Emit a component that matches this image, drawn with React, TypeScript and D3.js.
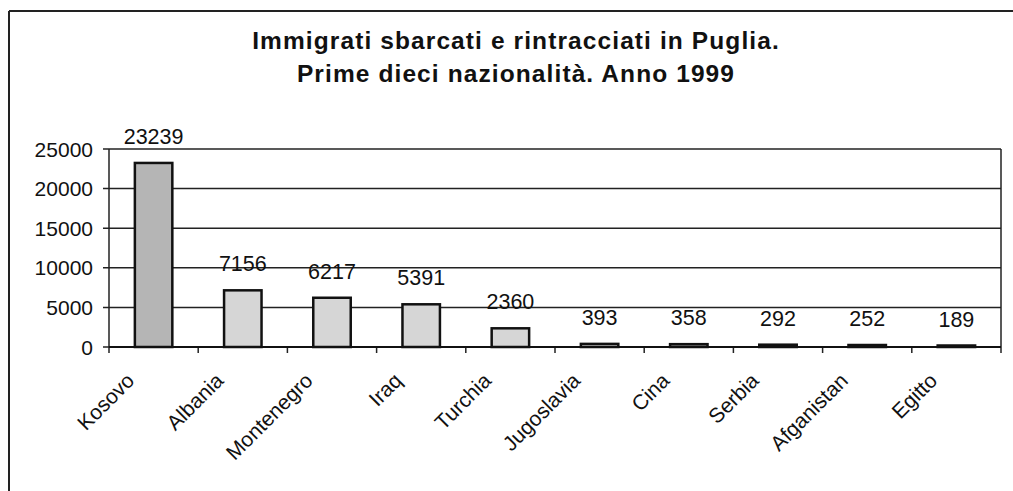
import React from 'react';
import * as d3 from 'd3';

const categories = ['Kosovo', 'Albania', 'Montenegro', 'Iraq', 'Turchia', 'Jugoslavia', 'Cina', 'Serbia', 'Afganistan', 'Egitto'];
const values = [23239, 7156, 6217, 5391, 2360, 393, 358, 292, 252, 189];
const yTicks = [0, 5000, 10000, 15000, 20000, 25000];
const titleLines = ['Immigrati sbarcati e rintracciati in Puglia.', 'Prime dieci nazionalità. Anno 1999'];

const W = 1013;
const H = 491;
const plot = { left: 109, right: 1001, top: 149, bottom: 347 };
const font = '"Liberation Sans", Arial, sans-serif';

const App = () => {
  const x = d3.scaleBand<string>().domain(categories).range([plot.left, plot.right]);
  const y = d3.scaleLinear().domain([0, 25000]).range([plot.bottom, plot.top]);
  const bw = x.bandwidth() * 0.42;

  return (
    <svg width={W} height={H} style={{ position: 'absolute', left: 0, top: 0, background: '#fff' }} fontFamily={font}>
      {/* outer frame */}
      <line x1={9} y1={11} x2={W} y2={11} stroke="#222" strokeWidth={2} />
      <line x1={9} y1={11} x2={9} y2={H} stroke="#222" strokeWidth={2} />

      {titleLines.map((t, i) => (
        <text key={t} x={516} y={49 + i * 33} textAnchor="middle" fontSize={24.5} fontWeight="bold" fill="#111" letterSpacing={1.1}>
          {t}
        </text>
      ))}

      {/* gridlines */}
      {yTicks.map((t) => (
        <g key={t}>
          <line x1={plot.left - 6} x2={plot.right} y1={y(t)} y2={y(t)} stroke="#222" strokeWidth={1.5} />
          <text x={93} y={y(t)} dy="0.36em" textAnchor="end" fontSize={21} fill="#111">
            {t}
          </text>
        </g>
      ))}
      <line x1={plot.left} x2={plot.left} y1={plot.top} y2={plot.bottom} stroke="#222" strokeWidth={1.5} />
      <line x1={plot.right} x2={plot.right} y1={plot.top} y2={plot.bottom} stroke="#222" strokeWidth={1.5} />

      {/* bars */}
      {categories.map((c, i) => {
        const cx = (x(c) as number) + x.bandwidth() / 2;
        const v = values[i];
        return (
          <g key={c}>
            <rect
              x={cx - bw / 2}
              y={y(v)}
              width={bw}
              height={Math.max(plot.bottom - y(v), 1)}
              fill={i === 0 ? '#b5b5b5' : '#d6d6d6'}
              stroke="#111"
              strokeWidth={2.5}
            />
            <text x={cx} y={y(v) - 19} textAnchor="middle" fontSize={21.5} fill="#111">
              {v}
            </text>
            <text
              x={cx - 18}
              y={382}
              textAnchor="end"
              fontSize={21}
              fill="#111"
              transform={`rotate(-45, ${cx - 18}, 382)`}
            >
              {c}
            </text>
          </g>
        );
      })}

      {/* x ticks */}
      {categories.concat(['']).map((c, i) => {
        const tx = plot.left + i * x.bandwidth();
        return <line key={i} x1={tx} x2={tx} y1={plot.bottom} y2={plot.bottom + 6} stroke="#222" strokeWidth={1.5} />;
      })}
      <line x1={plot.left} x2={plot.right} y1={plot.bottom} y2={plot.bottom} stroke="#111" strokeWidth={2} />
    </svg>
  );
};

export default App;
